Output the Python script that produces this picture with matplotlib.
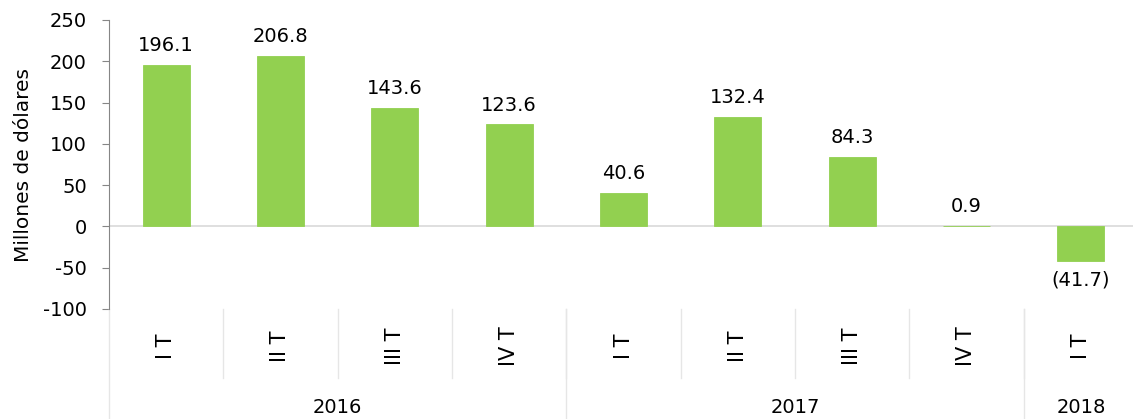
import matplotlib

matplotlib.use("Agg")
import matplotlib.pyplot as plt  # noqa: E402
from matplotlib.lines import Line2D  # noqa: E402
from matplotlib.transforms import blended_transform_factory  # noqa: E402

# --- dados ---
trimestres = ["I T", "II T", "III T", "IV T", "I T", "II T", "III T", "IV T", "I T"]
valores = [196.1, 206.8, 143.6, 123.6, 40.6, 132.4, 84.3, 0.9, -41.7]
anos = ["2016", "2017", "2018"]
trimestres_por_ano = [4, 4, 1]

VERDE = "#92d050"
CINZA_GRADE = "#e6e6e6"

plt.rcParams["font.family"] = "DejaVu Sans"
plt.rcParams["axes.unicode_minus"] = False

W, H = 1133, 419
fig = plt.figure(figsize=(W / 100, H / 100), dpi=100)
ax = fig.add_axes([109 / W, 1 - 309 / H, 1029 / W, 289 / H])

x = list(range(len(valores)))
ax.bar(x, valores, width=0.41, color=VERDE, edgecolor=VERDE, linewidth=0.6, zorder=3)
ax.axhline(0, color="#d9d9d9", lw=1.2, zorder=2)

ax.set_xlim(-0.5, len(valores) - 0.5)
ax.set_ylim(-100, 250)
ax.set_yticks(range(-100, 251, 50))
ax.tick_params(axis="y", direction="out", length=5, color="#868686",
               labelsize=14, pad=11)
ax.set_xticks([])
for lado in ["top", "right", "bottom"]:
    ax.spines[lado].set_visible(False)
ax.spines["left"].set_color("#868686")
ax.set_ylabel("Millones de dólares", fontsize=14.5)
ax.yaxis.set_label_coords(-0.074, 0.5)

# rótulos de valores
for xi, v in zip(x, valores):
    if v >= 0:
        ax.annotate(f"{v:.1f}", (xi, v), xytext=(0, 7), textcoords="offset points",
                    ha="center", va="bottom", fontsize=14)
    else:
        ax.annotate(f"({abs(v):.1f})", (xi, v), xytext=(0, -7),
                    textcoords="offset points", ha="center", va="top", fontsize=14)

# eixo de categorias em dois níveis
trans = blended_transform_factory(ax.transData, ax.transAxes)
y_trim = -69 / 289
y_base = -115 / 289
for xi, rot in zip(x, trimestres):
    ax.text(xi, -0.13, rot, transform=trans, rotation=90, ha="center",
            va="center", fontsize=15)
for b in range(1, len(valores)):
    ax.add_line(Line2D([b - 0.5, b - 0.5], [0, y_trim], transform=trans,
                       color=CINZA_GRADE, lw=1, clip_on=False))

inicio = 0
for ano, n in zip(anos, trimestres_por_ano):
    ax.text(inicio + (n - 1) / 2, -0.34, ano, transform=trans, ha="center",
            va="center", fontsize=14)
    ax.add_line(Line2D([inicio - 0.5, inicio - 0.5], [0, y_base], transform=trans,
                       color=CINZA_GRADE, lw=1, clip_on=False))
    inicio += n
ax.add_line(Line2D([inicio - 0.5, inicio - 0.5], [0, y_base], transform=trans,
                   color=CINZA_GRADE, lw=1, clip_on=False))

plt.savefig("out.png", dpi=100)
plt.close()
